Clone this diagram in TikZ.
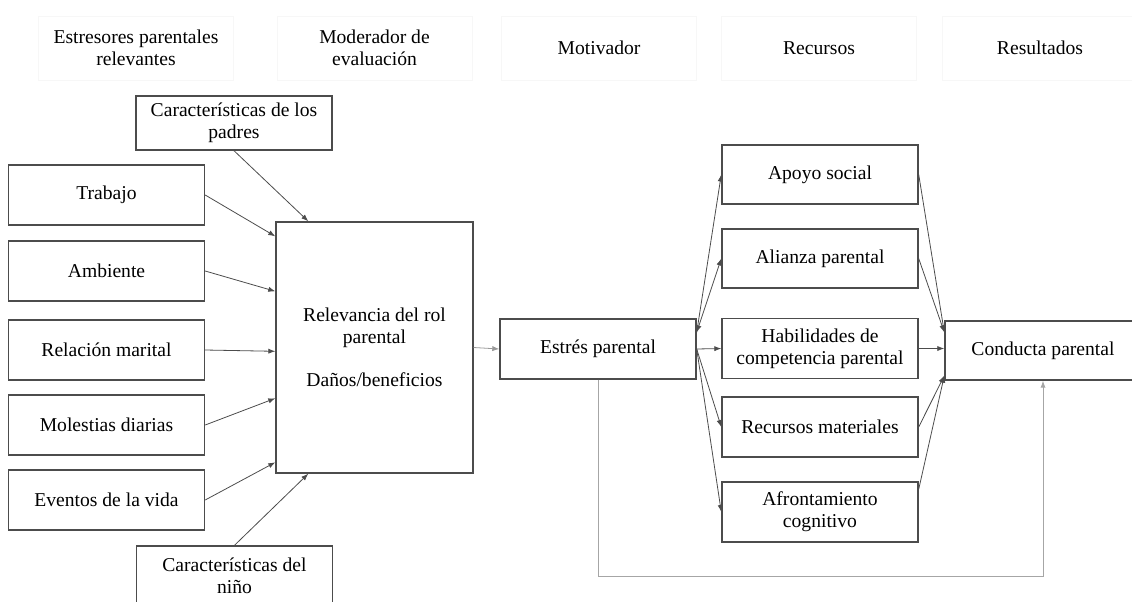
\documentclass[tikz,border=0pt]{standalone}
\usepackage{fontspec}
\setmainfont{Liberation Serif}
\usetikzlibrary{arrows.meta, calc}

\begin{document}
\begin{tikzpicture}[
  x=0.5pt, y=-0.5pt,
  >={Latex[length=3.5pt,width=2.6pt]},
  font=\fontsize{9.8}{10.8}\selectfont,
  head/.style={
    draw=black!3,
    line width=0.5pt,
    rectangle,
    align=center,
    minimum width=97.5pt,
    minimum height=32pt
  },
  block/.style={
    draw=black!70,
    line width=0.7pt,
    rectangle,
    fill=white,
    align=center,
    inner sep=2pt,
    minimum width=98pt,
    minimum height=30pt
  },
  arr/.style={->, draw=black!70, line width=0.4pt},
  fback/.style={->, draw=black!35, line width=0.5pt}
]

\useasboundingbox (0,0) rectangle (1132,601);

% --- Column headings ---
\node[head] (H1) at (136,48)    {Estresores parentales\\relevantes};
\node[head] (H2) at (374.5,48)  {Moderador de\\evaluación};
\node[head] (H3) at (599,48)    {Motivador};
\node[head] (H4) at (819,48)    {Recursos};
\node[head] (H5) at (1040,48)   {Resultados};

% --- Stressors ---
\node[block, minimum height=27pt] (Padres) at (234,123) {Características de los\\padres};
\node[block] (Trab)    at (106.5,195) {Trabajo};
\node[block] (Amb)     at (106.5,271) {Ambiente};
\node[block] (Marital) at (106.5,350) {Relación marital};
\node[block] (Molest)  at (106.5,425) {Molestias diarias};
\node[block] (Event)   at (106.5,500) {Eventos de la vida};
\node[block] (Nino)    at (234.5,576) {Características del\\niño};

% --- Appraisal, motivator ---
\node[block, minimum width=98.5pt, minimum height=125.5pt] (Relev) at (374.5,347.5)
  {Relevancia del rol\\parental\\[10.8pt]Daños/beneficios};
\node[block] (Estres) at (598,349) {Estrés parental};

% --- Resources ---
\node[block, minimum height=29.5pt] (Apoyo)   at (820,174.5) {Apoyo social};
\node[block, minimum height=29.5pt] (Alianza) at (820,258.5) {Alianza parental};
\node[block] (Habil)  at (820,348.5) {Habilidades de\\competencia parental};
\node[block] (RecMat) at (820,427)   {Recursos materiales};
\node[block] (Afront) at (820,512)   {Afrontamiento\\cognitivo};

% --- Outcome ---
\node[block, minimum height=29.5pt] (Cond) at (1043,350.5) {Conducta parental};

% --- Stressors -> relevance ---
\draw[arr] (Padres.south) -- ($(Relev.north west)+(33,0)$);
\draw[arr] (Trab.east)    -- ($(Relev.north west)+(0,15)$);
\draw[arr] (Amb.east)     -- ($(Relev.north west)+(0,70)$);
\draw[arr] (Marital.east) -- ($(Relev.north west)+(0,130)$);
\draw[arr] (Molest.east)  -- ($(Relev.north west)+(0,177)$);
\draw[arr] (Event.east)   -- ($(Relev.north west)+(0,241)$);
\draw[arr] (Nino.north)   -- ($(Relev.south west)+(33,0)$);

% --- Relevance -> stress ---
\draw[arr, draw=black!40] (Relev.east) -- (Estres.west);

% --- Stress -> resources ---
\draw[arr]  ($(Estres.north east)+(0,14)$) -- (Apoyo.west);
\draw[arr, <->] ($(Estres.north east)+(0,14)$) -- (Alianza.west);
\draw[arr]  (Estres.east) -- (Habil.west);
\draw[arr]  (Estres.east) -- (RecMat.west);
\draw[arr]  (Estres.east) -- (Afront.west);

% --- Resources -> behaviour ---
\draw[arr] (Apoyo.east)   -- ($(Cond.north west)+(0,12)$);
\draw[arr] (Alianza.east) -- ($(Cond.north west)+(0,12)$);
\draw[arr] (Habil.east)   -- (Cond.west |- Habil.east);
\draw[arr] (RecMat.east)  -- ($(Cond.south west)+(0,-5)$);
\draw[arr] ($(Afront.north east)+(0,8)$) -- ($(Cond.south west)+(0,-5)$);

% --- Direct path stress -> behaviour ---
\draw[fback] (Estres.south) -- ++(0,197) -| (Cond.south);

\end{tikzpicture}
\end{document}
